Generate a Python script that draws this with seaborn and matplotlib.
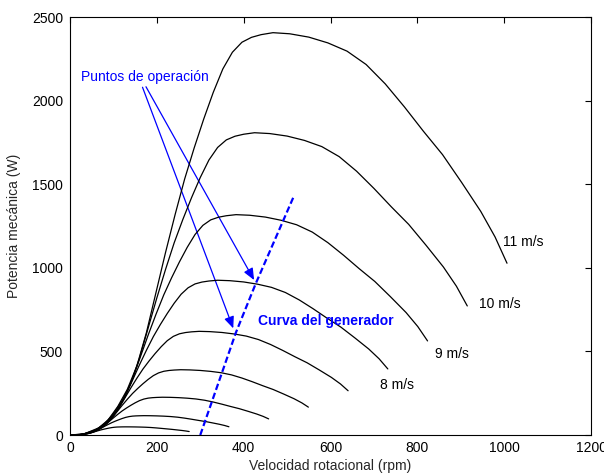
import matplotlib
matplotlib.use("Agg")
import matplotlib.pyplot as plt
import seaborn as sns
import pandas as pd
from matplotlib.patches import FancyArrowPatch

# ---- data (rpm, W) ----
wind_speeds = [3, 4, 5, 6, 7, 8, 9, 10, 11]

rpm_3 = [0, 9, 18, 24, 30, 36, 42, 48, 54, 60, 66, 72, 78, 84, 90, 96, 102, 108, 114, 120,
         127.5, 138, 150, 162, 174, 186, 198, 210, 222, 234, 246, 258, 267, 274.5]
w_3 = [0, 0.1, 0.9, 1.8, 3.5, 5.5, 8.4, 12.4, 17.3, 22.1, 26.7, 31.1, 34.8, 38.3, 41.6, 44.4, 46.4,
       47.7, 48.2, 48.6, 48.8, 48.7, 48.3, 47.6, 46.6, 45.0, 42.6, 39.8, 36.9, 34.0, 30.6, 27.1, 24.0, 20.8]

rpm_4 = [0, 12, 24, 32, 40, 48, 56, 64, 72, 80, 88, 96, 104, 112, 120, 128, 136, 144, 152, 160,
         170, 184, 200, 216, 232, 248, 264, 280, 296, 312, 328, 344, 356, 366]
w_4 = [0, 0.3, 2.0, 4.4, 8.2, 13.1, 19.8, 29.4, 41.0, 52.5, 63.4, 73.6, 82.6, 90.9, 98.6, 105.3, 110.1,
       113.0, 114.4, 115.1, 115.7, 115.4, 114.4, 112.8, 110.4, 106.6, 101.0, 94.4, 87.4, 80.6, 72.6, 64.3, 57.0, 49.4]

rpm_5 = [0, 15, 30, 40, 50, 60, 70, 80, 90, 100, 110, 120, 130, 140, 150, 160, 170, 180, 190, 200,
         212.5, 230, 250, 270, 290, 310, 330, 350, 370, 390, 410, 430, 445, 457.5]
w_5 = [0, 0.6, 4.0, 8.5, 16.0, 25.6, 38.8, 57.5, 80.0, 102.5, 123.8, 143.8, 161.3, 177.5, 192.5, 205.6, 215.0,
       220.6, 223.4, 224.9, 226.0, 225.4, 223.5, 220.3, 215.6, 208.1, 197.3, 184.4, 170.6, 157.5, 141.9, 125.6, 111.3, 96.5]

rpm_6 = [0, 18, 36, 48, 60, 72, 84, 96, 108, 120, 132, 144, 156, 168, 180, 192, 204, 216, 228, 240,
         255, 276, 300, 324, 348, 372, 396, 420, 444, 468, 492, 516, 534, 549]
w_6 = [0, 1.1, 6.9, 14.7, 27.6, 44.3, 67.0, 99.4, 138.2, 177.1, 213.8, 248.4, 278.6, 306.7, 332.6, 355.3, 371.5,
       381.2, 386.0, 388.6, 390.5, 389.4, 386.2, 380.6, 372.6, 359.6, 340.8, 318.6, 294.8, 272.2, 245.2, 217.1, 192.2, 166.8]

rpm_7 = [0, 21, 42, 56, 70, 84, 98, 112, 126, 140, 154, 168, 182, 196, 210, 224, 238, 252, 266, 280,
         297.5, 322, 350, 378, 406, 434, 462, 490, 518, 546, 574, 602, 623, 640.5]
w_7 = [0, 1.7, 11.0, 23.3, 43.9, 70.3, 106.3, 157.8, 219.5, 281.3, 339.6, 394.5, 442.5, 487.1, 528.2, 564.2, 590.0,
       605.4, 612.9, 617.1, 620.1, 618.4, 613.3, 604.4, 591.7, 571.1, 541.3, 505.9, 468.2, 432.2, 389.3, 344.7, 305.3, 264.8]

rpm_8 = [0, 24, 48, 64, 80, 96, 112, 128, 144, 160, 176, 192, 208, 224, 240, 256, 272, 288, 304, 320,
         340, 368, 400, 432, 464, 496, 528, 560, 592, 624, 656, 688, 712, 732]
w_8 = [0, 2.6, 16.4, 34.8, 65.5, 105.0, 158.7, 235.5, 327.7, 419.8, 506.9, 588.8, 660.5, 727.0, 788.5, 842.2, 880.6,
       903.7, 914.9, 921.1, 925.7, 923.1, 915.5, 902.1, 883.2, 852.5, 807.9, 755.2, 698.9, 645.1, 581.1, 514.6, 455.7, 395.3]

rpm_9 = [0, 27, 54, 72, 90, 108, 126, 144, 162, 180, 198, 216, 234, 252, 270, 288, 306, 324, 342, 360,
         382.5, 414, 450, 486, 522, 558, 594, 630, 666, 702, 738, 774, 801, 823.5]
w_9 = [0, 3.6, 23.3, 49.6, 93.3, 149.4, 226.0, 335.3, 466.6, 597.8, 721.7, 838.4, 940.4, 1035.2, 1122.7, 1199.2, 1253.9,
       1286.7, 1302.7, 1311.5, 1318.0, 1314.4, 1303.5, 1284.5, 1257.5, 1213.8, 1150.4, 1075.3, 995.1, 918.5, 827.4, 732.6, 648.8, 562.8]

rpm_10 = [0, 30, 60, 80, 100, 120, 140, 160, 180, 200, 220, 240, 260, 280, 300, 320, 340, 360, 380, 400,
          425, 460, 500, 540, 580, 620, 660, 700, 740, 780, 820, 860, 890, 915]
w_10 = [0, 5, 32, 68, 128, 205, 310, 460, 640, 820, 990, 1150, 1290, 1420, 1540, 1645, 1720,
        1765, 1787, 1799, 1808, 1803, 1788, 1762, 1725, 1665, 1578, 1475, 1365, 1260, 1135, 1005, 890, 772]

rpm_11 = [0, 33, 66, 88, 110, 132, 154, 176, 198, 220, 242, 264, 286, 308, 330, 352, 374, 396, 418, 440,
          467.5, 506, 550, 594, 638, 682, 726, 770, 814, 858, 902, 946, 979, 1006.5]
w_11 = [0, 6.7, 42.6, 90.5, 170.4, 272.9, 412.6, 612.3, 851.8, 1091.4, 1317.7, 1530.7, 1717.0, 1890.0, 2049.7, 2189.5, 2289.3,
        2349.2, 2378.5, 2394.5, 2406.4, 2399.8, 2379.8, 2345.2, 2296.0, 2216.1, 2100.3, 1963.2, 1816.8, 1677.1, 1510.7, 1337.7, 1184.6, 1027.5]

gen_rpm = [300, 353, 382, 428, 515]
gen_w = [0, 395, 612, 907, 1425]

curve_labels = ["11 m/s", "10 m/s", "9 m/s", "8 m/s"]
label_x = [997, 942, 840, 714]
label_y = [1154, 783, 484, 299]

x_ticks = [0, 200, 400, 600, 800, 1000, 1200]
y_ticks = [0, 500, 1000, 1500, 2000, 2500]

# ---- build table ----
curves = {3: (rpm_3, w_3), 4: (rpm_4, w_4), 5: (rpm_5, w_5), 6: (rpm_6, w_6),
          7: (rpm_7, w_7), 8: (rpm_8, w_8), 9: (rpm_9, w_9), 10: (rpm_10, w_10),
          11: (rpm_11, w_11)}
rows = []
for v in wind_speeds:
    rr, ww = curves[v]
    for a, b in zip(rr, ww):
        rows.append({"rpm": a, "W": b, "v": v})
df = pd.DataFrame(rows)
gen_df = pd.DataFrame({"rpm": gen_rpm, "W": gen_w})

# ---- style ----
sns.set_theme(style="white")
plt.rcParams["font.family"] = ["Liberation Sans", "DejaVu Sans"]
plt.rcParams["font.size"] = 10

fig = plt.figure(figsize=(6.04, 4.73), dpi=100)
ax = fig.add_axes([0.1159, 0.0803, 0.8626, 0.8837])

sns.lineplot(data=df, x="rpm", y="W", units="v", estimator=None, sort=False,
             color="black", linewidth=0.9, ax=ax)
sns.lineplot(data=gen_df, x="rpm", y="W", estimator=None, sort=False,
             color="#0000FF", linewidth=1.6, linestyle=(0, (2.9, 1.4)), ax=ax)

ax.set_xlim(0, 1200)
ax.set_ylim(0, 2500)
ax.set_xticks(x_ticks)
ax.set_yticks(y_ticks)
ax.tick_params(direction="in", length=4, width=0.8, top=True, right=True,
               labelsize=10, colors="black", pad=4)
ax.tick_params(axis="y", pad=5)
for s in ax.spines.values():
    s.set_color("black")
    s.set_linewidth(0.8)

ax.set_xlabel("Velocidad rotacional (rpm)", fontsize=10, labelpad=3)
ax.set_ylabel("Potencia mecánica (W)", fontsize=10, labelpad=8)

for t, x, y in zip(curve_labels, label_x, label_y):
    ax.text(x, y, t, fontsize=10, color="black", ha="left", va="center")

ax.text(25, 2143, "Puntos de operación", fontsize=10, color="#0000FF",
        ha="left", va="center")
ax.text(434, 679, "Curva del generador", fontsize=10, color="#0000FF",
        fontweight="bold", ha="left", va="center")

for (x0, y0), (x1, y1) in [((167, 2080), (376, 638)), ((175, 2083), (424, 927))]:
    arr = FancyArrowPatch((x0, y0), (x1, y1),
                          arrowstyle="-|>,head_length=7,head_width=3",
                          color="#0000FF", linewidth=0.9, shrinkA=0, shrinkB=0,
                          mutation_scale=1)
    ax.add_patch(arr)

fig.savefig("out.png", dpi=100)
